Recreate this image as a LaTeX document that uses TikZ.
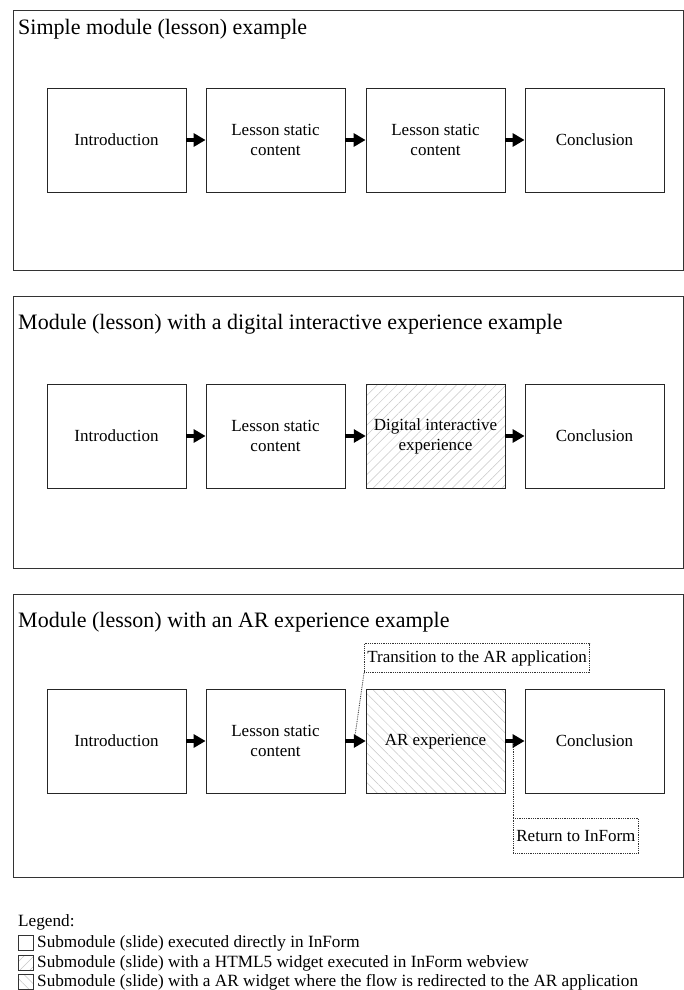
\documentclass[tikz,border=0pt]{standalone}
\usepackage{fontspec}
\setmainfont{Liberation Serif}
\usetikzlibrary{arrows.meta,patterns.meta}
\begin{document}
\begin{tikzpicture}[x=1pt,y=-1pt,
  frame/.style={draw=black!80,line width=0.8pt},
  title/.style={anchor=west,inner sep=0pt,font=\fontsize{22}{26}\selectfont},
  sbox/.style={draw=black!85,line width=0.8pt,minimum width=139pt,minimum height=104pt,inner sep=0pt,align=center,font=\fontsize{17}{20}\selectfont},
  webbox/.style={sbox,pattern={Lines[angle=45,distance=7pt,line width=0.5pt]},pattern color=black!22},
  arbox/.style={sbox,pattern={Lines[angle=-45,distance=7pt,line width=0.5pt]},pattern color=black!22},
  flow/.style={line width=3.5pt,-{Triangle[length=12pt,width=13pt]}},
  callout/.style={draw=black!80,densely dotted,line width=0.8pt,inner sep=3pt,font=\fontsize{17}{20}\selectfont},
  leader/.style={draw=black!80,densely dotted,line width=0.8pt},
  legtext/.style={anchor=west,inner sep=0pt,font=\fontsize{17.2}{20}\selectfont},
  legbox/.style={draw=black!80,line width=0.7pt,minimum width=15pt,minimum height=15pt,inner sep=0pt}
]
\useasboundingbox (0,0) rectangle (684,990);
\fill[white] (0,0) rectangle (684,990);

% Section 1
\draw[frame] (13,10) rectangle (683,270);
\node[title] (t1) at (18,29) {Simple module (lesson) example};
\node[sbox] (a1) at (116.5,140) {Introduction};
\node[sbox] (a2) at (275.5,140) {Lesson static\\content};
\node[sbox] (a3) at (435.5,140) {Lesson static\\content};
\node[sbox] (a4) at (594.5,140) {Conclusion};
\draw[flow] (a1.east) -- (a2.west);
\draw[flow] (a2.east) -- (a3.west);
\draw[flow] (a3.east) -- (a4.west);

% Section 2
\draw[frame] (13,296) rectangle (683,568);
\node[title] (t2) at (18,324) {Module (lesson) with a digital interactive experience example};
\node[sbox] (b1) at (116.5,436) {Introduction};
\node[sbox] (b2) at (275.5,436) {Lesson static\\content};
\node[webbox] (b3) at (435.5,436) {Digital interactive\\experience};
\node[sbox] (b4) at (594.5,436) {Conclusion};
\draw[flow] (b1.east) -- (b2.west);
\draw[flow] (b2.east) -- (b3.west);
\draw[flow] (b3.east) -- (b4.west);

% Section 3
\draw[frame] (13,594) rectangle (683,877);
\node[title] (t3) at (18,622) {Module (lesson) with an AR experience example};
\node[sbox] (c1) at (116.5,741) {Introduction};
\node[sbox] (c2) at (275.5,741) {Lesson static\\content};
\node[arbox] (c3) at (435.5,741) {AR experience\strut};
\node[sbox] (c4) at (594.5,741) {Conclusion};
\draw[flow] (c1.east) -- (c2.west);
\draw[flow] (c2.east) -- (c3.west);
\draw[flow] (c3.east) -- (c4.west);

\node[callout,anchor=south west,minimum height=29pt] (k1) at (364,673) {Transition to the AR application};
\node[callout,anchor=north west,minimum height=35pt] (k2) at (513,818) {Return to InForm};
\coordinate (p1) at (355,736);
\coordinate (p2) at (513,743);
\draw[leader] (k1.south west) -- (p1);
\draw[leader] (k2.north west) -- (p2);

% Legend
\node[legtext] (lg) at (18,922) {Legend:};
\node[legbox] (l1) at (25.5,943) {};
\node[legtext] (lt1) at (37,943) {Submodule (slide) executed directly in InForm};
\node[legbox,pattern={Lines[angle=45,distance=7pt,line width=0.5pt]},pattern color=black!22] (l2) at (25.5,963) {};
\node[legtext] (lt2) at (37,963) {Submodule (slide) with a HTML5 widget executed in InForm webview};
\node[legbox,pattern={Lines[angle=-45,distance=7pt,line width=0.5pt]},pattern color=black!22] (l3) at (25.5,982) {};
\node[legtext] (lt3) at (37,982) {Submodule (slide) with a AR widget where the flow is redirected to the AR application};
\end{tikzpicture}
\end{document}
